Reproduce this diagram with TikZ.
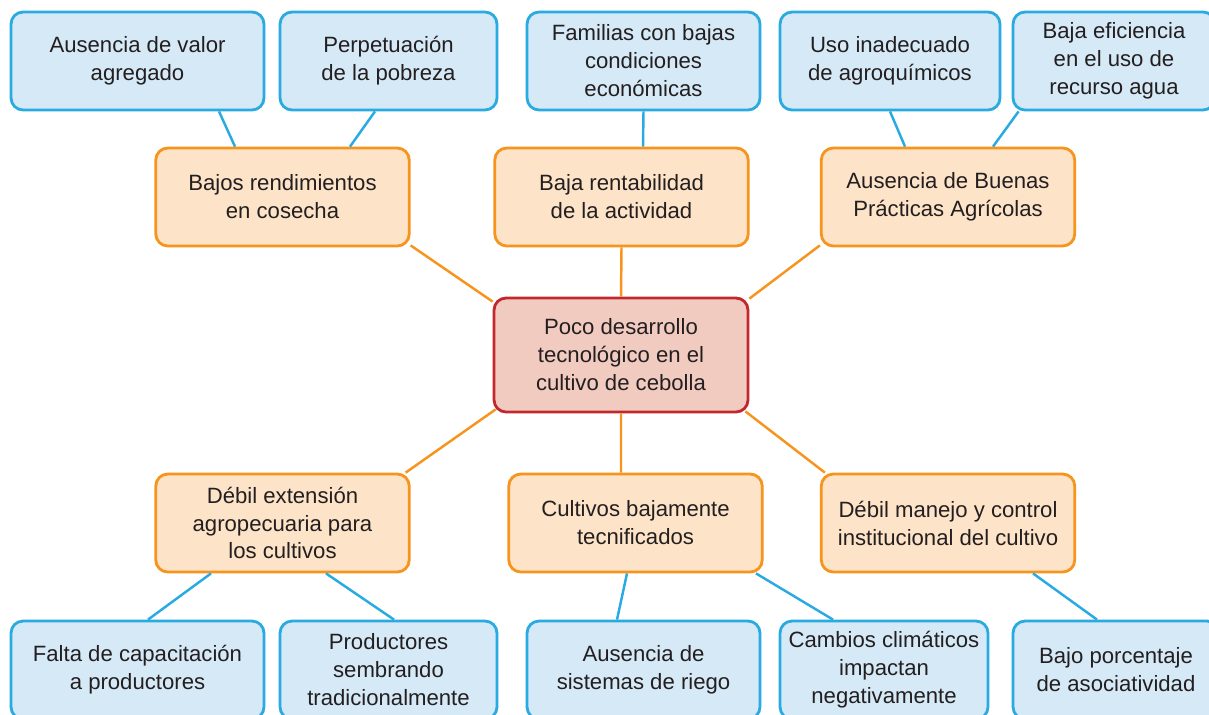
\documentclass[tikz,border=0pt]{standalone}
\usepackage{fontspec}
\setmainfont{Liberation Sans}
\usetikzlibrary{positioning, calc}

\definecolor{bluedraw}{RGB}{41,170,225}
\definecolor{bluefill}{RGB}{214,233,246}
\definecolor{orangedraw}{RGB}{247,148,29}
\definecolor{orangefill}{RGB}{253,227,200}
\definecolor{reddraw}{RGB}{193,39,45}
\definecolor{redfill}{RGB}{242,203,192}
\definecolor{textgray}{RGB}{35,31,32}

\begin{document}
\begin{tikzpicture}[
	x=0.02cm, y=-0.02cm,
	font=\fontsize{12.6}{15.9}\selectfont,
	box/.style={rounded corners=0.24cm, line width=1.6pt, align=center, inner sep=2pt, text=textgray, minimum height=1.96cm},
	leaf/.style={box, draw=bluedraw, fill=bluefill},
	mid/.style={box, draw=orangedraw, fill=orangefill, minimum width=5.07cm},
	core/.style={box, draw=reddraw, fill=redfill, minimum width=5.08cm, minimum height=2.28cm},
	blueline/.style={draw=bluedraw, line width=1.4pt},
	orangeline/.style={draw=orangedraw, line width=1.4pt}
]
\clip (0,0) rectangle (1209,714);

% Center
\node[core] (core) at (621,355) {Poco desarrollo\\tecnológico en el\\cultivo de cebolla};

% Middle row (effects and causes)
\node[mid] (yield) at (282.5,197) {Bajos rendimientos\\en cosecha};
\node[mid] (profit) at (621.5,197) {Baja rentabilidad\\de la actividad};
\node[mid] (bpa) at (948,197) {Ausencia de Buenas\\Prácticas Agrícolas};
\node[mid] (ext) at (282.5,523) {Débil extensión\\agropecuaria para\\los cultivos};
\node[mid] (tech) at (635.5,523) {Cultivos bajamente\\tecnificados};
\node[mid] (inst) at (948,523) {Débil manejo y control\\institucional del cultivo};

% Top leaves
\node[leaf, minimum width=5.06cm] (value) at (137.5,61) {Ausencia de valor\\agregado};
\node[leaf, minimum width=4.34cm] (poverty) at (388.5,61) {Perpetuación\\de la pobreza};
\node[leaf, minimum width=4.66cm] (families) at (643.5,61) {Familias con bajas\\condiciones\\económicas};
\node[leaf, minimum width=4.40cm] (agrochem) at (890,61) {Uso inadecuado\\de agroquímicos};
\node[leaf, minimum width=4.04cm] (water) at (1114,61) {Baja eficiencia\\en el uso de\\recurso agua};

% Bottom leaves
\node[leaf, minimum width=5.06cm] (training) at (137.5,670) {Falta de capacitación\\a productores};
\node[leaf, minimum width=4.34cm] (tradition) at (388.5,670) {Productores\\sembrando\\tradicionalmente};
\node[leaf, minimum width=4.66cm] (irrigation) at (643.5,670) {Ausencia de\\sistemas de riego};
\node[leaf, minimum width=4.16cm] (climate) at (884,670) {Cambios climáticos\\impactan\\negativamente};
\node[leaf, minimum width=4.12cm] (assoc) at (1116,670) {Bajo porcentaje\\de asociatividad};

% Orange links
\draw[orangeline] ([yshift=0.04cm]yield.south east) -- ([yshift=-0.1cm]core.north west);
\draw[orangeline] (profit.south) -- (core.north);
\draw[orangeline] ([yshift=0.04cm]bpa.south west) -- ([yshift=-0.04cm]core.north east);
\draw[orangeline] ([xshift=0.06cm,yshift=0.08cm]core.south west) -- ([xshift=-0.1cm]ext.north east);
\draw[orangeline] (core.south) -- ([xshift=-0.29cm]tech.north);
\draw[orangeline] ([xshift=-0.08cm,yshift=0.04cm]core.south east) -- ([xshift=0.1cm]inst.north west);

% Blue links
\draw[blueline] ([xshift=1.63cm]value.south) -- ([xshift=-0.95cm]yield.north);
\draw[blueline] ([xshift=-0.27cm]poverty.south) -- ([xshift=1.35cm]yield.north);
\draw[blueline] (families.south) -- ([xshift=0.43cm]profit.north);
\draw[blueline] (agrochem.south) -- ([xshift=-0.86cm]bpa.north);
\draw[blueline] ([xshift=0.14cm]water.south west) -- ([xshift=0.9cm]bpa.north);
\draw[blueline] ([xshift=-1.43cm]ext.south) -- ([xshift=0.21cm]training.north);
\draw[blueline] ([xshift=0.87cm]ext.south) -- ([xshift=0.11cm]tradition.north);
\draw[blueline] ([xshift=-0.17cm]tech.south) -- ([xshift=-0.53cm]irrigation.north);
\draw[blueline] ([xshift=2.41cm]tech.south) -- ([xshift=-1.02cm]climate.north);
\draw[blueline] ([xshift=1.7cm]inst.south) -- ([xshift=-0.38cm]assoc.north);

\end{tikzpicture}
\end{document}
